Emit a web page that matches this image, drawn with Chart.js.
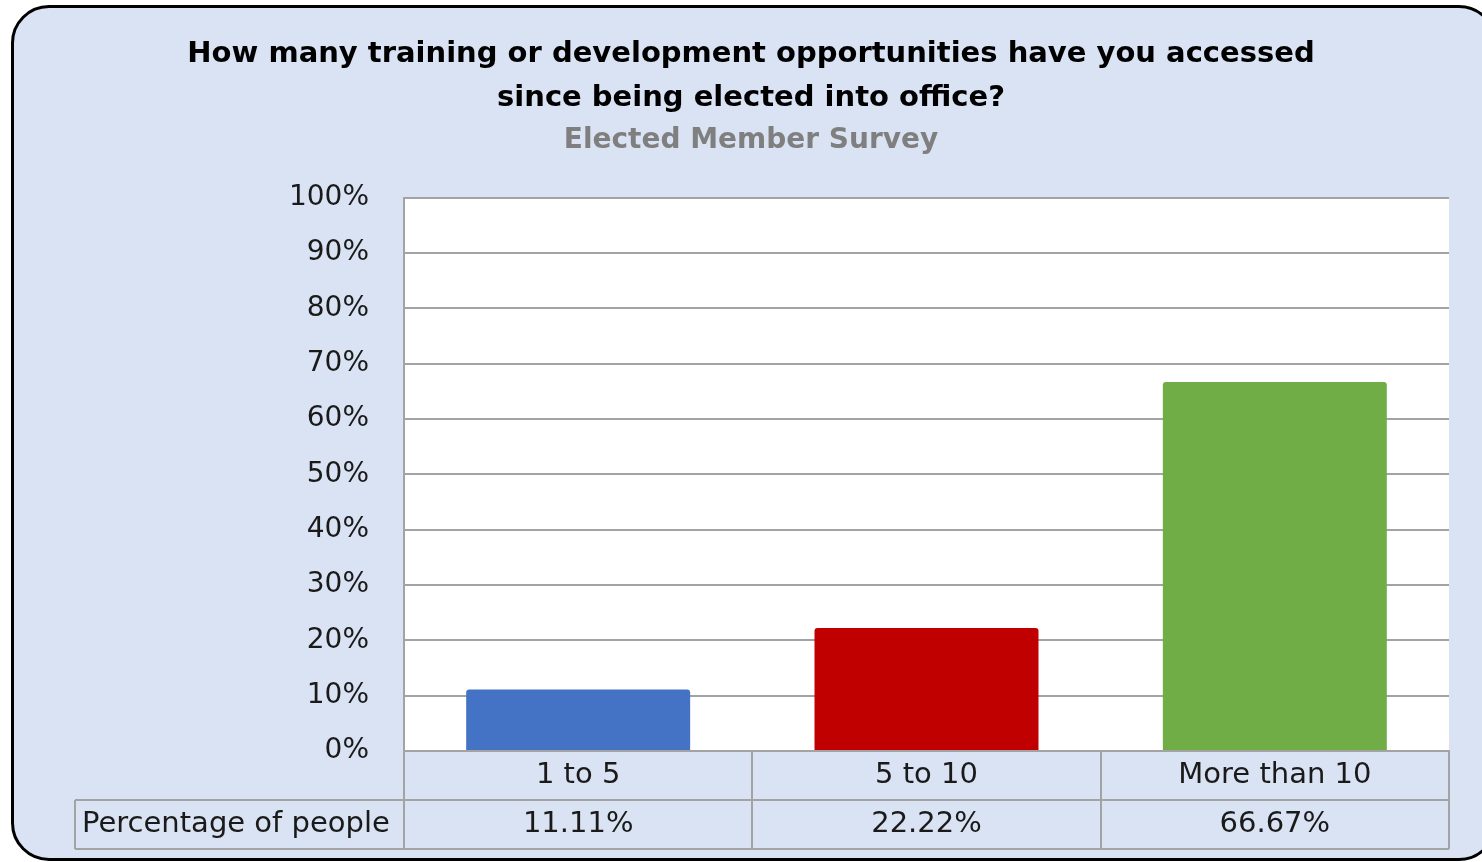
<!DOCTYPE html>
<html>
<head>
<meta charset="utf-8">
<script src="https://cdn.jsdelivr.net/npm/chart.js@4"></script>
<style>
  html, body { margin: 0; background: #ffffff; overflow: hidden; }
  #lienzo { position: relative; width: 1482px; height: 862px; overflow: hidden; }
  #frame {
    position: absolute; left: 11px; top: 5px; width: 1480px; height: 850px;
    border: 3px solid #000; border-radius: 38px; background: #dae3f3;
  }
  #renderCanva { position: absolute; left: 0; top: 0; }
</style>
</head>
<body>
<div id="lienzo">
  <div id="frame"></div>
  <canvas id="renderCanva" width="1482" height="862"></canvas>
</div>
<script>
// datos del grafico
const categorias = ["1 to 5", "5 to 10", "More than 10"];
const porcentajes = [11.11, 22.22, 66.67];
const etiquetasTabla = ["11.11%", "22.22%", "66.67%"];
const nombreSerie = "Percentage of people";
const coloresBarras = ["#4472c4", "#c00000", "#70ad47"];

const ctx = document.querySelector("#renderCanva");
const fuente = "'DejaVu Sans', 'Liberation Sans', sans-serif";
const gris = "#a3a3a3";

// fondo blanco del area del grafico
const fondoArea = {
  id: "fondoArea",
  beforeDraw: (chart) => {
    const a = chart.chartArea;
    const c = chart.ctx;
    c.save();
    c.fillStyle = "#ffffff";
    c.fillRect(a.left, a.top, a.right - a.left, a.bottom - a.top);
    c.restore();
  },
};

// tabla de datos debajo del eje x
const tablaDatos = {
  id: "tablaDatos",
  afterDraw: (chart) => {
    const c = chart.ctx;
    const x = chart.scales.x;
    const a = chart.chartArea;
    const fila = 49;
    const y0 = a.bottom;
    const y1 = y0 + fila;
    const y2 = y1 + fila;
    const izq = 75;
    c.save();
    c.strokeStyle = gris;
    c.lineWidth = 2;
    c.beginPath();
    // lineas verticales
    for (let i = 0; i <= categorias.length; i++) {
      const px = Math.round(x.getPixelForValue(i - 0.5));
      c.moveTo(px, y0);
      c.lineTo(px, y2);
    }
    c.moveTo(izq, y1);
    c.lineTo(izq, y2);
    // lineas horizontales
    c.moveTo(izq, y1);
    c.lineTo(a.right, y1);
    c.moveTo(izq, y2);
    c.lineTo(a.right, y2);
    c.stroke();

    c.fillStyle = "#1a1a1a";
    c.font = "29px " + fuente;
    c.textBaseline = "middle";
    c.textAlign = "center";
    categorias.forEach((cat, i) => {
      const px = x.getPixelForValue(i);
      c.fillText(cat, px, y0 + fila / 2);
      c.fillText(etiquetasTabla[i], px, y1 + fila / 2);
    });
    c.textAlign = "left";
    c.fillText(nombreSerie, 82, y1 + fila / 2);
    c.restore();
  },
};

let myChart = new Chart(ctx, {
  type: "bar",
  data: {
    labels: categorias,
    datasets: [
      {
        label: nombreSerie,
        data: porcentajes,
        backgroundColor: coloresBarras,
        borderWidth: 0,
        borderRadius: { topLeft: 3, topRight: 3 },
        borderSkipped: "bottom",
        categoryPercentage: 1,
        barPercentage: 0.643,
      },
    ],
  },
  options: {
    responsive: false,
    animation: false,
    layout: { padding: { left: 53, right: 33, top: 0, bottom: 0 } },
    plugins: {
      legend: { display: false },
      tooltip: { enabled: false },
      title: {
        display: true,
        text: [
          "How many training or development opportunities have you accessed",
          "since being elected into office?",
        ],
        color: "#000000",
        font: { family: fuente, size: 29, weight: "bold", lineHeight: 1.5 },
        padding: { top: 33, bottom: 4 },
      },
      subtitle: {
        display: true,
        text: "Elected Member Survey",
        color: "#7f7f7f",
        font: { family: fuente, size: 28, weight: "bold", lineHeight: 1.2 },
        padding: { top: 0, bottom: 40 },
      },
    },
    scales: {
      x: {
        grid: { display: false },
        border: { display: true, color: gris, width: 2 },
        ticks: { display: false },
        afterFit: (s) => { s.height = 111; },
      },
      y: {
        min: 0,
        max: 100,
        ticks: {
          stepSize: 10,
          padding: 35,
          color: "#1a1a1a",
          font: { family: fuente, size: 28 },
          callback: (v) => v + "%",
        },
        grid: { color: gris, lineWidth: 2, drawTicks: false },
        border: { display: true, color: gris, width: 2 },
        afterFit: (s) => { s.width = 351; },
      },
    },
  },
  plugins: [fondoArea, tablaDatos],
});
</script>
</body>
</html>
